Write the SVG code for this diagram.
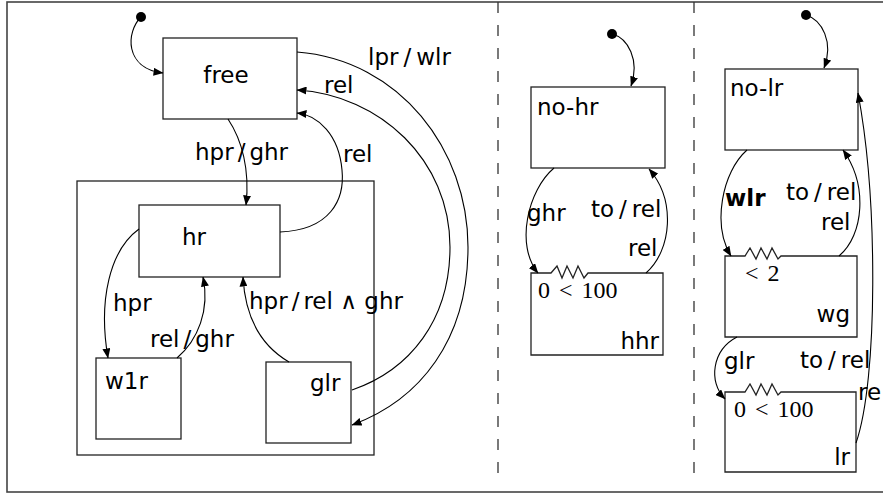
<svg xmlns="http://www.w3.org/2000/svg" width="883" height="494" viewBox="0 0 883 494">
<defs>
<marker id="ah" viewBox="0 0 10 8" refX="9.5" refY="4" markerWidth="10" markerHeight="8" markerUnits="userSpaceOnUse" orient="auto">
<path d="M0,0 L10,4 L0,8 z" fill="#000"/>
</marker>
<style>
.box{fill:#fff;stroke:#222;stroke-width:1.3}
.grp{fill:none;stroke:#222;stroke-width:1.3}
.e{fill:none;stroke:#000;stroke-width:1.1;marker-end:url(#ah)}
.t{font-family:"DejaVu Sans",sans-serif;font-size:23px;fill:#000}
.b{font-weight:bold}
.m{font-family:"Liberation Serif",serif;font-size:24px;fill:#000;word-spacing:3px}
.dash{stroke:#333;stroke-width:1.3;stroke-dasharray:11 12}
.dot{fill:#000}
</style>
</defs>

<rect x="7" y="2" width="900" height="490" fill="none" stroke="#444" stroke-width="1.6"/>
<line class="dash" x1="498" y1="2" x2="498" y2="481"/>
<line class="dash" x1="694" y1="2" x2="694" y2="481"/>

<!-- left panel -->
<g id="group-hr-super">
<rect class="grp" x="77" y="181" width="297" height="274"/>
</g>
<g id="init-left"><circle class="dot" cx="141" cy="17" r="5"/></g>
<g id="free">
<rect class="box" x="163" y="38" width="134" height="81"/>
<text class="t" x="226" y="83" text-anchor="middle">free</text>
</g>
<g id="hr">
<rect class="box" x="139" y="205" width="141" height="72"/>
<text class="t" x="182" y="245">hr</text>
</g>
<g id="w1r">
<rect class="box" x="96" y="358" width="85" height="81"/>
<text class="t" x="105" y="389">w1r</text>
</g>
<g id="glr">
<rect class="box" x="266" y="362" width="85" height="81"/>
<text class="t" x="310" y="391">glr</text>
</g>

<!-- middle panel -->
<g id="init-mid"><circle class="dot" cx="612" cy="34" r="5"/></g>
<g id="no-hr">
<rect class="box" x="531" y="87" width="134" height="81"/>
<text class="t" x="537" y="115">no-hr</text>
</g>
<g id="hhr">
<path class="box" d="M531,273 L551,273 L557,266 L562,278 L567,266 L573,278 L578,266 L584,278 L588,273 L663,273 L663,355 L531,355 Z"/>
<text class="m" x="538" y="298">0 &lt; 100</text>
<text class="t" x="659" y="349" text-anchor="end">hhr</text>
</g>

<!-- right panel -->
<g id="init-right"><circle class="dot" cx="806" cy="15" r="5"/></g>
<g id="no-lr">
<rect class="box" x="725" y="69" width="133" height="81"/>
<text class="t" x="730" y="96">no-lr</text>
</g>
<g id="wg">
<path class="box" d="M725,256 L745,256 L750,248 L756,259 L761,248 L767,259 L772,248 L778,259 L781,256 L857,256 L857,337 L725,337 Z"/>
<text class="m" x="745" y="281">&lt; 2</text>
<text class="t" x="850" y="322" text-anchor="end">wg</text>
</g>
<g id="lr">
<path class="box" d="M725,392 L745,392 L750,384 L756,395 L761,384 L767,395 L772,384 L778,395 L781,392 L856,392 L856,472 L725,472 Z"/>
<text class="m" x="734" y="417">0 &lt; 100</text>
<text class="t" x="850" y="465" text-anchor="end">lr</text>
</g>

<g id="connectors">
<path class="e" d="M141,17 C126,32 124,68 163,73"/>
<path class="e" d="M228,119 C242,140 250,170 246,205"/>
<path class="e" d="M280,232 C330,230 345,200 342,170 C339,135 318,115 297,113"/>
<path class="e" d="M297,52 C400,60 468,150 468,247 C468,340 420,400 352,425"/>
<path class="e" d="M352,390 C410,370 450,320 450,247 C450,160 380,95 297,90"/>
<path class="e" d="M139,229 C110,250 98,300 108,358"/>
<path class="e" d="M177,358 C198,340 210,310 203,277"/>
<path class="e" d="M289,362 C260,345 245,315 243,277"/>

<path class="e" d="M612,34 C628,38 640,60 631,86"/>
<path class="e" d="M554,168 C528,190 515,245 538,273"/>
<path class="e" d="M646,273 C672,250 676,200 649,169"/>

<path class="e" d="M806,15 C822,20 834,42 824,68"/>
<path class="e" d="M747,150 C722,172 712,225 731,256"/>
<path class="e" d="M839,256 C864,235 868,185 843,150"/>
<path class="e" d="M737,337 C712,350 708,382 725,399"/>
<path class="e" d="M856,443 C878,380 878,200 858,93"/>

<text class="t" x="195" y="160">hpr<tspan dx="4">/</tspan><tspan dx="4">ghr</tspan></text>
<text class="t" x="368" y="65">lpr<tspan dx="5">/</tspan><tspan dx="5">wlr</tspan></text>
<text class="t" x="324" y="93">rel</text>
<text class="t" x="343" y="162">rel</text>
<text class="t" x="113" y="311">hpr</text>
<text class="t" x="150" y="347">rel<tspan dx="4">/</tspan><tspan dx="4">ghr</tspan></text>
<text class="t" x="249" y="309">hpr<tspan dx="4">/</tspan><tspan dx="4">rel ∧ ghr</tspan></text>

<text class="t" x="527" y="221">ghr</text>
<text class="t" x="591" y="217">to<tspan dx="5">/</tspan><tspan dx="5">rel</tspan></text>
<text class="t" x="628" y="256">rel</text>

<text class="t b" x="725" y="206">wlr</text>
<text class="t" x="786" y="200">to<tspan dx="5">/</tspan><tspan dx="5">rel</tspan></text>
<text class="t" x="821" y="230">rel</text>
<text class="t" x="724" y="369">glr</text>
<text class="t" x="800" y="368">to<tspan dx="5">/</tspan><tspan dx="5">rel</tspan></text>
<text class="t" x="858" y="400">re</text>
</g>
</svg>
